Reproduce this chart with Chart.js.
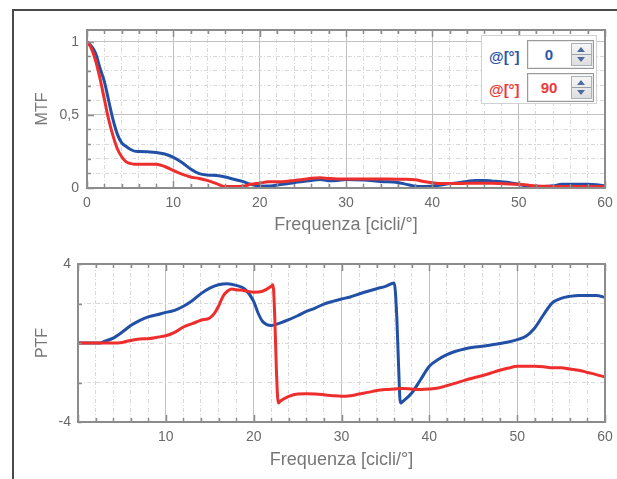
<!DOCTYPE html>
<html><head><meta charset="utf-8">
<script src="https://cdn.jsdelivr.net/npm/chart.js@4/dist/chart.umd.min.js"></script>
<style>
html,body{margin:0;padding:0;background:#fff;width:617px;height:479px;overflow:hidden;position:relative;}
#frame{position:absolute;left:12px;top:9px;width:700px;height:500px;border:2px solid #4a4a4a;box-sizing:border-box;}
canvas{position:absolute;left:0;}
#c1{top:0px;} #c2{top:240px;}
.leg{position:absolute;left:481px;top:35px;width:116px;height:69px;background:#fff;border:1px solid #d2d2d2;box-sizing:border-box;font-family:'Liberation Sans',Arial,sans-serif;}
.lab{position:absolute;left:7px;font-size:15px;font-weight:600;line-height:17px;}
.box{position:absolute;left:45px;width:67px;height:29px;border:1px solid #9a9a9a;box-sizing:border-box;background:#fff;box-shadow:inset 0 0 0 1px #e8e8e8;}
.val{position:absolute;left:0;top:5px;width:42px;text-align:center;font-size:15px;font-weight:600;line-height:17px;}
.spin{position:absolute;left:43px;top:2px;width:21px;height:23px;border:1px solid #aab0b8;background:linear-gradient(#f6f6f6,#dedede);box-sizing:border-box;}
.spin .mid{position:absolute;left:0;right:0;top:10px;height:1px;background:#9aa0a8;}
.up{position:absolute;left:5px;top:3px;width:0;height:0;border-left:4px solid transparent;border-right:4px solid transparent;border-bottom:5px solid #4d6c9e;}
.dn{position:absolute;left:5px;top:13px;width:0;height:0;border-left:4px solid transparent;border-right:4px solid transparent;border-top:5px solid #4d6c9e;}
</style></head>
<body>
<div id="frame"></div>
<canvas id="c1" width="617" height="240"></canvas>
<canvas id="c2" width="617" height="239"></canvas>
<div class="leg">
  <div class="lab" id="l0" style="top:12px;color:#2d55a8"></div>
  <div class="box" style="top:4px"><div class="val" id="v0" style="color:#2d55a8"></div><div class="spin"><div class="up"></div><div class="mid"></div><div class="dn"></div></div></div>
  <div class="lab" id="l1" style="top:45px;color:#ec3a3a"></div>
  <div class="box" style="top:37px"><div class="val" id="v1" style="color:#ec3a3a"></div><div class="spin"><div class="up"></div><div class="mid"></div><div class="dn"></div></div></div>
</div>
<script>
// ---------- data ----------
const mtfFreq = [0,0.5,1,1.5,2,2.5,3,3.5,4,4.5,5,5.5,6,7,8,9,10,11,12,13,14,15,16,17,18,19,20,21,22,23,24,25,26,27,28,29,30,32,34,36,37,38,39,40,41,42,43,44,45,46,47,48,49,50,51,52,53,54,55,56,57,58,59,60];
const mtf0 = [1,0.97,0.92,0.82,0.73,0.6,0.47,0.37,0.31,0.285,0.265,0.252,0.25,
  0.247,0.243,0.232,0.21,0.175,0.13,0.098,0.088,0.085,0.075,0.06,0.045,0.025,0.012,0.013,0.02,0.028,0.036,0.045,0.052,0.058,0.05,0.052,0.058,
  0.055,0.045,0.038,
  0.025,0.012,0.01,0.014,0.02,0.03,0.036,0.045,0.052,0.052,0.047,0.042,0.036,0.025,0.014,0.01,0.01,0.015,0.025,0.025,0.025,0.025,0.022,0.014];
const mtf90 = [1,0.955,0.87,0.75,0.61,0.47,0.36,0.27,0.215,0.18,0.168,0.163,0.162,
  0.162,0.162,0.147,0.12,0.095,0.075,0.065,0.05,0.03,0.01,0.01,0.012,0.025,0.033,0.042,0.043,0.045,0.052,0.058,0.066,0.07,0.065,0.062,0.062,
  0.062,0.062,0.06,
  0.06,0.056,0.045,0.036,0.03,0.03,0.03,0.032,0.033,0.033,0.032,0.03,0.028,0.025,0.02,0.014,0.012,0.01,0.01,0.01,0.01,0.01,0.01,0.01];

const ptfFreq0 = [0,1,2,2.5,3,4,5,6,7,8,9,10,11,12,13,14,15,16,17,18,19,20,20.5,21,21.5,22,23,24,25,26,27,28,29,30,31,32,33,34,35,36,36.3,36.5,36.7,37,38,39,40,41,42,43,44,45,46,47,48,49,50,51,52,53,54,55,56,57,58,59,60];
const ptf0 = [0,0,0,0,
  0.08,0.25,0.54,0.88,1.13,1.32,1.43,1.55,1.65,1.86,2.14,2.5,2.78,2.95,3.0,2.92,2.73,2.11,
  1.52,1.1,0.93,0.88,
  1.01,1.18,1.38,1.6,1.77,1.97,2.11,2.23,2.33,2.48,2.62,2.75,2.87,3.04,
  1.27,-1.18,-3.04,
  -2.95,-2.53,-1.86,-1.18,-0.84,-0.59,-0.42,-0.3,-0.22,-0.17,-0.1,-0.03,0.05,0.17,0.34,0.76,1.43,2.03,2.26,2.36,2.41,2.41,2.41,2.31];
const ptfFreq90 = [0,1,2,3,4,5,6,7,8,9,10,11,12,13,14,15,15.5,16,16.5,17,17.5,18,19,20,21,22,22.2,22.4,22.6,22.8,23,24,25,26,27,28,29,30,31,32,33,34,35,36,37,38,39,40,41,42,43,44,45,46,47,48,49,50,51,52,53,54,55,56,57,58,59,60];
const ptf90 = [0,0,0,0,0,0.03,0.13,0.2,0.22,0.29,0.37,0.54,0.81,0.98,1.15,1.27,
  1.49,1.86,2.36,2.62,2.73,2.7,
  2.65,2.57,2.62,2.87,
  2.95,1.35,-1.52,-3.04,
  -2.95,-2.7,-2.58,-2.57,-2.58,-2.62,-2.67,-2.7,-2.67,-2.58,-2.5,-2.41,-2.36,-2.33,-2.3,-2.33,-2.35,-2.33,
  -2.28,-2.16,-2.03,-1.89,-1.77,-1.66,-1.52,-1.38,-1.27,-1.18,-1.18,-1.18,-1.2,-1.25,-1.25,-1.32,-1.38,-1.49,-1.6,-1.72];

const angleLabels = ['0','90'];
const seriesName = '@[°]';
const xTicks = [0,2,4,6,8,10,12,14,16,18,20,22,24,26,28,30,32,34,36,38,40,42,44,46,48,50,52,54,56,58,60];
const mtfXLabels = [0,10,20,30,40,50,60];
const mtfYTicks = [0,0.1,0.2,0.3,0.4,0.5,0.6,0.7,0.8,0.9,1];
const mtfYLabels = [0,0.5,1];
const ptfXLabels = [10,20,30,40,50,60];
const ptfYTicks = [-4,-2,0,2,4];
const ptfYLabels = [-4,4];
const xTitle = 'Frequenza [cicli/°]';

// ---------- legend text ----------
document.getElementById('l0').textContent = seriesName;
document.getElementById('l1').textContent = seriesName;
document.getElementById('v0').textContent = angleLabels[0];
document.getElementById('v1').textContent = angleLabels[1];

// ---------- helpers ----------
const FONT = "'Liberation Sans', Arial, sans-serif";
const BLUE = '#2150a6', RED = '#ee2d2d';
const pts = (xs, ys) => xs.map((x, i) => ({x, y: ys[i]}));
const fmt = v => String(v).replace('.', ',');
const near = (a, b) => Math.abs(a - b) < 1e-9;
const isMajorX = v => near(v % 10, 0);

function xScale(labels, h, titlePad) {
  return {
    type: 'linear', min: 0, max: 60,
    afterBuildTicks: s => { s.ticks = xTicks.map(v => ({value: v})); },
    afterFit: s => { s.height = h; s.paddingLeft = 2; s.paddingRight = 2; },
    ticks: { autoSkip: false, maxRotation: 0, padding: 7, color: '#6a6a6a',
      font: {family: FONT, size: 14},
      callback: v => labels.some(l => near(l, v)) ? fmt(v) : '' },
    grid: { drawTicks: false, lineWidth: 1,
      color: c => (c.tick && isMajorX(c.tick.value)) ? '#c2c2c2' : '#d9d9d9' },
    border: { display: false,
      dash: c => (c.tick && isMajorX(c.tick.value)) ? [] : [4, 2, 1, 2] },
    title: { display: true, text: xTitle, color: '#777', font: {family: FONT, size: 18},
      padding: {top: 0, bottom: titlePad} }
  };
}
function yScale(min, max, ticks, labels, isMajor, w, pad, title) {
  return {
    type: 'linear', min, max,
    afterBuildTicks: s => { s.ticks = ticks.map(v => ({value: v})); },
    afterFit: s => { s.width = w; s.paddingTop = 2; s.paddingBottom = 2; },
    ticks: { autoSkip: false, padding: pad, color: '#6a6a6a', font: {family: FONT, size: 14},
      callback: v => labels.some(l => near(l, v)) ? fmt(v) : '' },
    grid: { drawTicks: false, lineWidth: 1,
      color: c => (c.tick && isMajor(c.tick.value)) ? '#c2c2c2' : '#d9d9d9' },
    border: { display: false,
      dash: c => (c.tick && isMajor(c.tick.value)) ? [] : [4, 2, 1, 2] },
    title: { display: true, text: title, color: '#777', font: {family: FONT, size: 16},
      padding: {top: 33, bottom: 0} }
  };
}

const framePlugin = {
  id: 'frame',
  afterDraw(chart, args, opts) {
    const {ctx, chartArea: a, scales: {x, y}} = chart;
    ctx.save();
    ctx.strokeStyle = '#8c8c8c';
    ctx.lineWidth = 1.5;
    ctx.beginPath();
    x.ticks.forEach(t => {
      const px = Math.round(x.getPixelForValue(t.value)) + 0.5;
      const L = isMajorX(t.value) ? 7 : 4;
      ctx.moveTo(px, a.bottom); ctx.lineTo(px, a.bottom - L);
      ctx.moveTo(px, a.top); ctx.lineTo(px, a.top + L);
    });
    y.ticks.forEach(t => {
      const py = Math.round(y.getPixelForValue(t.value)) + 0.5;
      const L = opts.yMajor(t.value) ? 7 : 4;
      ctx.moveTo(a.left, py); ctx.lineTo(a.left + L, py);
    });
    ctx.stroke();
    ctx.lineWidth = 2;
    ctx.strokeRect(a.left, a.top, a.right - a.left, a.bottom - a.top);
    ctx.restore();
  }
};

function ds(label, data, color, order) {
  return { label, data, order, borderColor: color, backgroundColor: color, borderWidth: 3,
    pointRadius: 0, cubicInterpolationMode: 'monotone', fill: false };
}

const common = {
  responsive: false, animation: false, devicePixelRatio: 1,
};

new Chart(document.getElementById('c1'), {
  type: 'line',
  data: { datasets: [
    ds(seriesName + ' ' + angleLabels[0], pts(mtfFreq, mtf0), BLUE, 1),
    ds(seriesName + ' ' + angleLabels[1], pts(mtfFreq, mtf90), RED, 0)
  ]},
  options: Object.assign({}, common, {
    layout: { padding: {left: 0, right: 12, top: 30, bottom: 0} },
    plugins: { legend: {display: false}, tooltip: {enabled: false},
      frame: { yMajor: v => near(Math.round(v * 10) % 5, 0) } },
    scales: {
      x: xScale(mtfXLabels, 52, 4),
      y: yScale(0, 1.08, mtfYTicks, mtfYLabels, v => near(Math.round(v * 10) % 5, 0), 87, 8, 'MTF')
    }
  }),
  plugins: [framePlugin]
});

new Chart(document.getElementById('c2'), {
  type: 'line',
  data: { datasets: [
    ds(seriesName + ' ' + angleLabels[0], pts(ptfFreq0, ptf0), BLUE, 1),
    ds(seriesName + ' ' + angleLabels[1], pts(ptfFreq90, ptf90), RED, 0)
  ]},
  options: Object.assign({}, common, {
    layout: { padding: {left: 0, right: 12, top: 24, bottom: 0} },
    plugins: { legend: {display: false}, tooltip: {enabled: false},
      frame: { yMajor: v => false } },
    scales: {
      x: xScale(ptfXLabels, 57, 8),
      y: yScale(-4, 4, ptfYTicks, ptfYLabels, v => false, 78, 7, 'PTF')
    }
  }),
  plugins: [framePlugin]
});
</script>
</body></html>
